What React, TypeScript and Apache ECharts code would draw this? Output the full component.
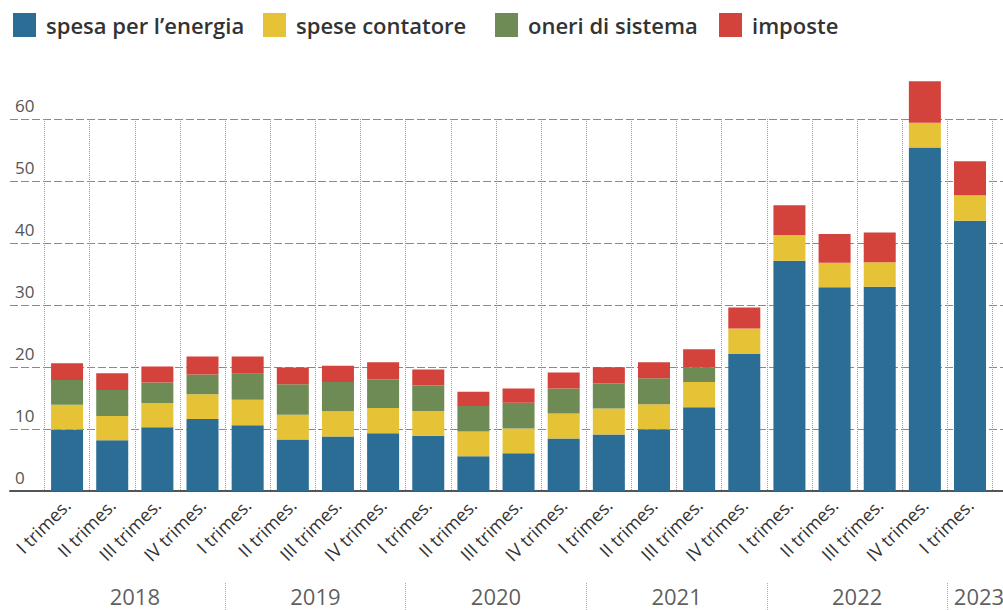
import React, { useEffect, useRef } from "react";
import * as echarts from "echarts";

const quarters = [
  "I trimes.", "II trimes.", "III trimes.", "IV trimes.",
  "I trimes.", "II trimes.", "III trimes.", "IV trimes.",
  "I trimes.", "II trimes.", "III trimes.", "IV trimes.",
  "I trimes.", "II trimes.", "III trimes.", "IV trimes.",
  "I trimes.", "II trimes.", "III trimes.", "IV trimes.",
  "I trimes.",
];
const years = ["2018", "2019", "2020", "2021", "2022", "2023"];
const quartersPerYear = [4, 4, 4, 4, 4, 1];

const seriesNames = ["spesa per l’energia", "spese contatore", "oneri di sistema", "imposte"];
const energia = [9.9, 8.2, 10.3, 11.6, 10.6, 8.3, 8.8, 9.3, 8.9, 5.6, 6.1, 8.45, 9.1, 9.95, 13.5, 22.1, 37.15, 32.85, 32.95, 55.4, 43.6];
const contatore = [4.0, 3.9, 3.9, 4.0, 4.1, 4.0, 4.05, 4.1, 4.0, 4.0, 4.0, 4.05, 4.2, 4.05, 4.1, 4.1, 4.15, 3.95, 3.95, 4.0, 4.1];
const oneri = [4.0, 4.2, 3.3, 3.2, 4.2, 4.9, 4.75, 4.6, 4.1, 4.1, 4.15, 4.05, 4.05, 4.2, 2.35, 0, 0, 0, 0, 0, 0];
const imposte = [2.7, 2.7, 2.6, 2.9, 2.8, 2.7, 2.6, 2.75, 2.6, 2.3, 2.3, 2.55, 2.6, 2.55, 2.9, 3.4, 4.8, 4.65, 4.8, 6.7, 5.5];
const yTicks = [0, 10, 20, 30, 40, 50, 60];

const colors = ["#2b6d94", "#e6c237", "#6f8b55", "#d4423c"];
const FONT = "'Open Sans', 'Noto Sans', sans-serif";

export default function App() {
  const ref = useRef<HTMLDivElement>(null);
  useEffect(() => {
    if (!ref.current) return;
    const chart = echarts.init(ref.current, null, { renderer: "svg" });

    const values = [energia, contatore, oneri, imposte];
    const yMin = yTicks[0];
    const yMax = yTicks[yTicks.length - 1];
    const yInterval = yTicks[1] - yTicks[0];

    const yearPoints: any[] = [];
    const separators: any[] = [];
    let start = 0;
    quartersPerYear.forEach((n, i) => {
      const item: any = { value: [start + n / 2, 0.5], name: years[i] };
      if (i === years.length - 1) item.label = { offset: [9, 0] };
      yearPoints.push(item);
      start += n;
      if (i < quartersPerYear.length - 1) separators.push({ xAxis: start });
    });
    const totalQ = start;

    const legendLefts = [13, 263, 495, 719];

    chart.setOption({
      animation: false,
      textStyle: { fontFamily: FONT },
      legend: seriesNames.map((n, i) => ({
        data: [n],
        left: legendLefts[i],
        top: 13,
        padding: 0,
        itemGap: 0,
        itemWidth: 23,
        itemHeight: 24,
        icon: "rect",
        selectedMode: false,
        textStyle: { fontSize: 22, fontWeight: 600, color: "#333", fontFamily: FONT, padding: [0, 0, 0, 5] },
      })),
      grid: [
        { left: 10, right: 0, top: 119, bottom: 119 },
        { left: 44.5, right: 10.4, top: 119, bottom: 119 },
        { left: 44.5, right: 10.4, top: 582, bottom: 0 },
      ],
      xAxis: [
        {
          gridIndex: 0, type: "value", min: 0, max: 1,
          axisLine: { show: true, lineStyle: { color: "#555", width: 2 } },
          axisTick: { show: false }, axisLabel: { show: false }, splitLine: { show: false },
        },
        {
          gridIndex: 1, type: "category", data: quarters, boundaryGap: true,
          axisLine: { show: false }, axisTick: { show: false },
          axisLabel: { interval: 0, rotate: 45, margin: 11, fontSize: 18, color: "#333", fontFamily: FONT },
          splitLine: { show: true, interval: 0, lineStyle: { color: "#999", type: "dotted", width: 1 } },
        },
        {
          gridIndex: 2, type: "value", min: 0, max: totalQ, show: false,
        },
      ],
      yAxis: [
        {
          gridIndex: 0, type: "value", min: yMin, max: yMax, interval: yInterval,
          axisLine: { show: false }, axisTick: { show: false },
          axisLabel: {
            inside: true, margin: 5, fontSize: 17, color: "#555", fontFamily: FONT,
            verticalAlign: "bottom", lineHeight: 28,
          },
          splitLine: { show: true, lineStyle: { color: "#8a8a8a", type: [8, 3], width: 1 } },
        },
        {
          gridIndex: 1, type: "value", min: yMin, max: yMax, interval: yInterval, show: false,
          splitLine: { show: false },
        },
        {
          gridIndex: 2, type: "value", min: 0, max: 1, show: false,
        },
      ],
      series: [
        ...seriesNames.map((n, i) => ({
          name: n,
          type: "bar",
          stack: "total",
          xAxisIndex: 1,
          yAxisIndex: 1,
          data: values[i],
          barWidth: 32,
          clip: false,
          itemStyle: { color: colors[i] },
        })),
        {
          type: "scatter",
          xAxisIndex: 2,
          yAxisIndex: 2,
          symbolSize: 0,
          data: yearPoints,
          silent: true,
          label: {
            show: true, position: "inside", formatter: (p: any) => p.name,
            fontSize: 22, color: "#333", fontFamily: FONT,
          },
          markLine: {
            silent: true, symbol: "none",
            label: { show: false },
            lineStyle: { color: "#aaa", type: "dotted", width: 1 },
            data: separators,
          },
        },
      ],
    });
    return () => chart.dispose();
  }, []);
  return (
    <div
      ref={ref}
      style={{ position: "fixed", left: 0, top: 0, width: 1003, height: 610, background: "#fff" }}
    />
  );
}
